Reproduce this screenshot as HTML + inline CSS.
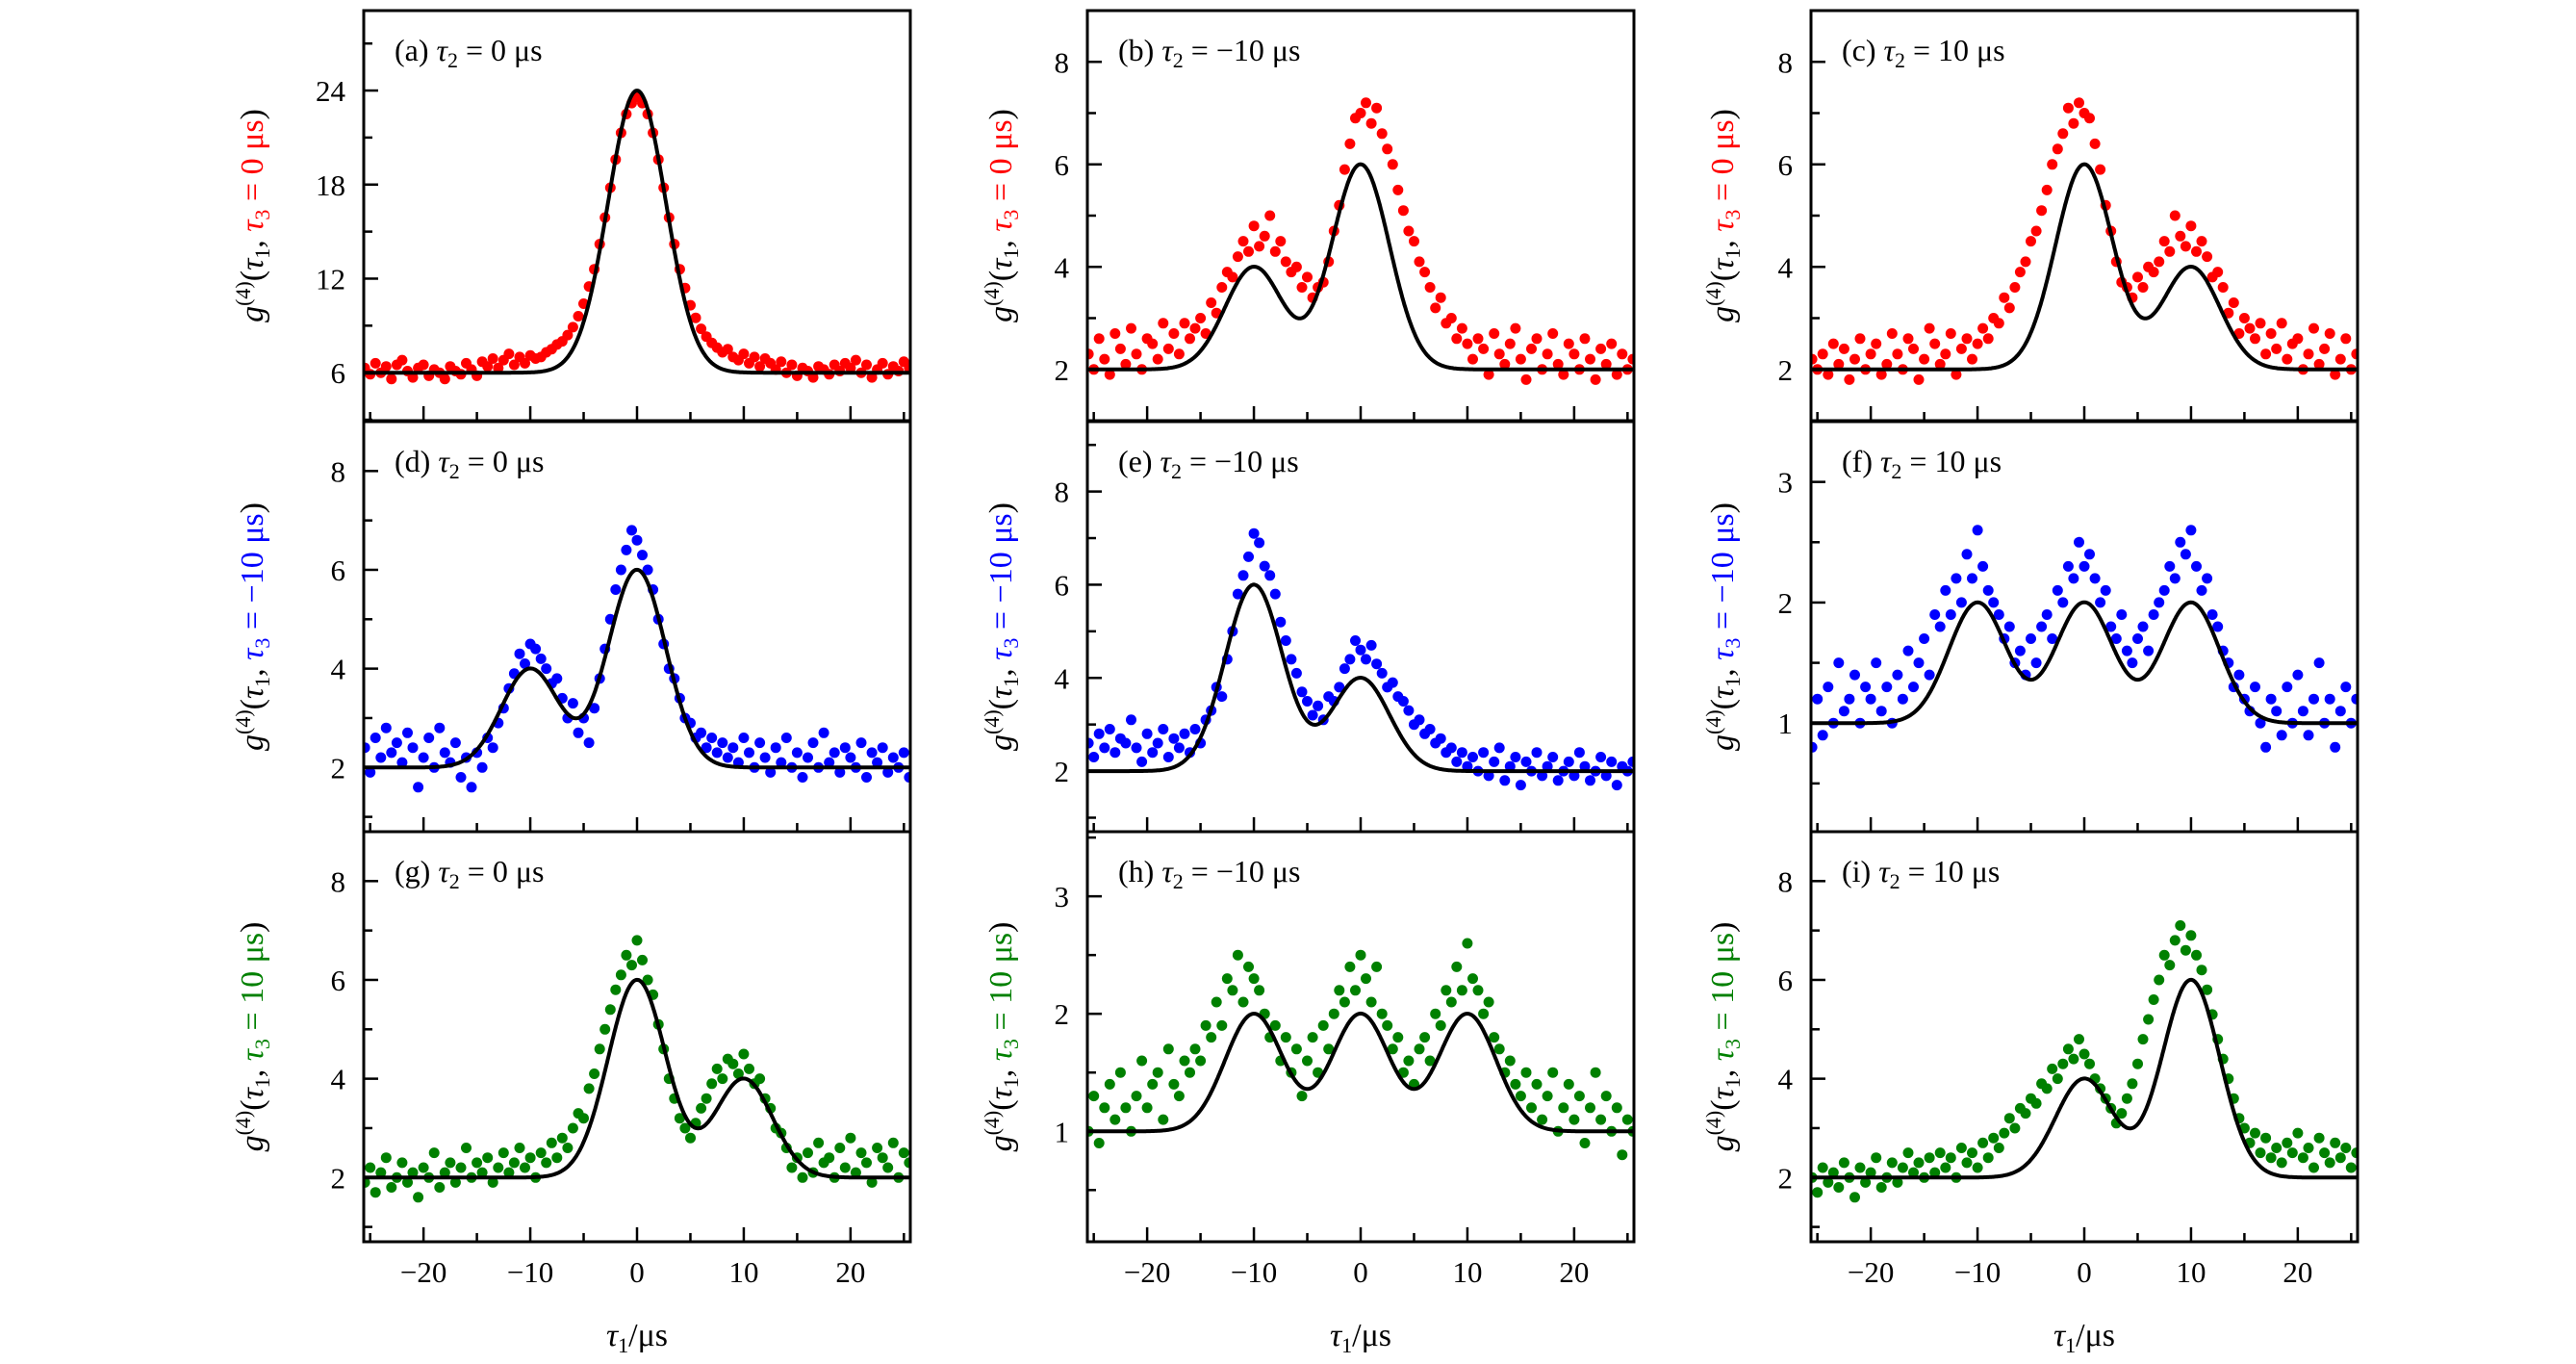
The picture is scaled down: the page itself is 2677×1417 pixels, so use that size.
<!DOCTYPE html>
<html><head><meta charset="utf-8"><style>
html,body{margin:0;padding:0;background:#fff;}
svg{display:block;}
text{font-family:"Liberation Serif","DejaVu Serif",serif;fill:#000;}
</style></head><body>
<svg id="fig" width="2677" height="1417" viewBox="0 0 2677 1417" xmlns="http://www.w3.org/2000/svg"></svg>
<script>
// ---- data ----
const xStart = -25.5, xStep = 0.5;
const xTicks = [-25,-20,-15,-10,-5,0,5,10,15,20,25];
const xTickLabels = ["","\u221220","","\u221210","","0","","10","","20",""];
const panelLetters = ["a","b","c","d","e","f","g","h","i"];
const tau2Labels = ["0","\u221210","10","0","\u221210","10","0","\u221210","10"];
const tau3Labels = ["0","0","0","\u221210","\u221210","\u221210","10","10","10"];
const yMins = [2.94,1.0,1.0,0.7,0.7,0.1,0.7,0.06,0.7];
const yMaxs = [29.1,9.0,9.0,9.0,9.5,3.5,9.0,3.55,9.0];
const yMajorTicks = [[6,12,18,24],[2,4,6,8],[2,4,6,8],[2,4,6,8],[2,4,6,8],[1,2,3],[2,4,6,8],[1,2,3],[2,4,6,8]];
const yMinorTicks = [[3,9,15,21,27],[1,3,5,7,9],[1,3,5,7,9],[1,3,5,7,9],[1,3,5,7,9],[0.5,1.5,2.5,3.5],[1,3,5,7,9],[0.5,1.5,2.5,3.5],[1,3,5,7,9]];
// fit model: baseline + gaussians
const fitBaselines = [6,2,2,2,2,1,2,1,2];
const fitSigma = [2.7,2.7,2.7,2.7,2.7,2.7,2.7,2.7,2.7];
const fitCenters = [[0],[-10,0],[0,10],[-10,0],[-10,0],[-10,0,10],[0,10],[-10,0,10],[0,10]];
const fitAmps = [[18],[2,4],[4,2],[2,4],[4,2],[1,1,1],[4,2],[1,1,1],[2,4]];
// measured points (x = -25.5 + 0.5*i)
const dataA = [6.3,5.9,6.6,6.0,6.4,5.6,6.5,6.8,6.1,5.7,6.3,6.5,5.8,6.2,6.0,5.6,6.4,6.1,5.9,6.6,6.2,5.8,6.7,6.4,6.9,6.3,6.8,7.2,6.5,7.0,6.6,7.1,
 6.9,7.0,7.3,7.5,7.8,8.0,8.4,8.9,9.6,10.4,11.5,12.6,14.2,15.9,17.8,19.6,21.3,22.5,23.2,23.6,
 23.2,22.5,21.3,19.6,17.8,15.9,14.2,12.6,11.4,10.3,9.5,8.8,8.3,7.9,7.6,7.3,7.5,7.0,6.8,
 7.2,6.6,7.0,6.4,6.9,6.6,6.2,6.7,6.0,6.5,5.8,6.3,6.1,5.7,6.4,6.2,5.9,6.5,6.1,6.6,6.3,6.8,6.0,6.5,5.7,6.2,6.6,5.9,6.4,6.1,6.7,6.3];
const dataB = [2.3,2.0,2.6,2.2,1.9,2.7,2.4,2.1,2.8,2.3,2.0,2.6,2.5,2.2,2.9,2.4,2.7,2.3,2.9,2.6,
 2.8,3.0,2.7,3.3,3.1,3.6,3.9,3.8,4.2,4.5,4.3,4.8,4.4,4.6,5.0,4.3,4.5,4.1,3.9,4.0,3.6,3.8,3.4,3.6,3.7,4.1,4.7,5.2,5.9,6.4,6.9,7.0,
 7.2,6.8,7.1,6.6,6.3,6.0,5.5,5.1,4.7,4.5,4.1,3.9,3.6,3.2,3.4,2.9,3.0,2.6,2.8,2.5,
 2.2,2.6,2.4,1.9,2.7,2.3,2.1,2.5,2.8,2.2,1.8,2.4,2.6,2.0,2.3,2.7,2.1,1.9,2.5,2.3,2.0,2.6,2.2,1.8,2.4,2.1,2.5,1.9,2.3,2.0,2.2];
const dataC = [2.2,2.0,2.3,1.9,2.5,2.1,2.4,1.8,2.2,2.6,2.0,2.3,2.5,1.9,2.1,2.7,2.3,2.0,2.6,2.4,1.8,2.2,2.8,2.5,2.1,2.3,2.7,1.9,2.4,2.6,2.2,
 2.5,2.8,2.6,3.0,2.9,3.4,3.2,3.6,3.9,4.1,4.5,4.7,5.1,5.5,6.0,6.3,6.6,7.1,6.8,7.2,7.0,
 6.9,6.4,5.9,5.2,4.7,4.1,3.7,3.6,3.4,3.8,3.6,4.0,3.9,4.1,4.5,4.3,5.0,4.6,4.4,4.8,4.3,4.5,4.2,3.8,3.9,3.6,3.1,3.3,2.7,3.0,2.8,
 2.6,2.9,2.3,2.7,2.4,2.9,2.2,2.5,2.6,2.0,2.3,2.8,2.1,2.4,2.7,1.9,2.2,2.6,2.0,2.3];
const dataD = [2.4,1.9,2.6,2.2,2.8,2.3,2.5,2.1,2.7,2.4,1.6,2.2,2.6,2.0,2.8,2.3,2.1,2.5,1.8,2.2,
 1.6,2.3,2.0,2.6,2.4,2.9,3.2,3.6,3.9,4.3,4.1,4.5,4.4,4.2,4.0,3.7,3.8,3.4,3.0,3.3,2.7,3.0,2.5,3.2,3.8,4.4,5.0,5.6,6.0,6.4,6.8,6.6,
 6.3,6.0,5.6,5.0,4.5,4.0,3.8,3.4,3.0,2.9,2.6,2.7,2.4,2.6,2.3,2.5,2.2,2.4,2.1,2.6,
 2.3,2.0,2.5,2.2,1.9,2.4,2.1,2.6,2.0,2.3,1.8,2.2,2.5,2.0,2.7,2.1,2.3,1.9,2.4,2.2,2.0,2.5,1.8,2.3,2.1,2.4,1.9,2.2,2.0,2.3,1.8];
const dataE = [2.6,2.3,2.8,2.5,2.9,2.4,2.7,2.6,3.1,2.5,2.2,2.8,2.4,2.6,2.9,2.3,2.7,2.5,2.8,2.4,
 2.9,2.6,3.1,3.3,3.8,3.6,4.4,5.0,5.8,6.2,6.6,7.1,6.9,6.4,6.2,5.8,5.2,4.8,4.4,4.1,3.7,3.5,3.2,3.4,3.1,3.6,3.5,3.8,4.2,4.4,4.8,4.6,
 4.4,4.7,4.3,4.1,3.8,3.9,3.6,3.5,3.3,3.0,3.1,2.8,2.9,2.6,2.7,2.4,2.5,2.2,2.4,2.1,
 2.3,2.0,2.4,1.9,2.2,2.5,1.8,2.1,2.3,1.7,2.2,2.0,2.4,1.9,2.1,2.3,1.8,2.0,2.2,1.9,2.4,2.1,1.8,2.0,2.3,1.9,2.2,1.7,2.1,2.0,2.2];
const dataF = [0.8,1.2,0.9,1.3,1.0,1.5,1.1,1.2,1.4,1.0,1.3,1.2,1.5,1.1,1.3,1.0,1.4,1.2,1.6,1.3,
 1.5,1.7,1.4,1.9,1.8,2.1,1.9,2.2,2.0,2.4,2.2,2.6,2.3,2.1,2.0,1.9,1.7,1.8,1.5,1.6,1.4,1.7,1.5,1.8,1.9,1.7,2.1,2.0,2.3,2.2,2.5,2.3,
 2.4,2.2,2.0,2.1,1.8,1.7,1.9,1.6,1.5,1.7,1.8,1.6,1.9,2.0,2.1,2.3,2.2,2.5,2.4,2.6,
 2.3,2.1,2.2,1.9,1.8,1.6,1.5,1.3,1.4,1.2,1.1,1.3,1.0,0.8,1.2,1.1,0.9,1.3,1.0,1.4,1.1,0.9,1.2,1.5,1.0,1.2,0.8,1.1,1.3,1.0,1.2];
const dataG = [1.9,2.2,1.7,2.1,2.4,1.8,2.0,2.3,1.9,2.1,1.6,2.2,2.0,2.5,1.8,2.1,2.3,1.9,2.2,2.6,
 2.0,2.3,2.1,2.4,1.9,2.2,2.5,2.1,2.3,2.6,2.2,2.4,2.0,2.5,2.3,2.7,2.4,2.8,2.6,3.0,3.3,3.2,3.8,4.1,4.6,5.0,5.4,5.8,6.1,6.5,6.3,6.8,
 6.4,6.0,5.7,5.1,4.6,4.0,3.6,3.2,3.0,2.8,3.1,3.4,3.6,3.9,4.2,4.0,4.4,4.3,4.1,4.5,
 4.2,3.9,4.0,3.6,3.4,3.0,2.9,2.6,2.2,2.4,2.0,2.5,2.1,2.7,2.3,2.4,2.0,2.6,2.2,2.8,2.1,2.5,2.3,1.9,2.6,2.4,2.2,2.7,2.0,2.5,2.3];
const dataH = [1.0,1.3,0.9,1.2,1.4,1.1,1.5,1.2,1.0,1.3,1.6,1.2,1.4,1.5,1.1,1.7,1.4,1.3,1.6,1.5,
 1.7,1.6,1.9,1.8,2.1,1.9,2.3,2.2,2.5,2.1,2.4,2.3,2.2,2.0,1.8,1.9,1.6,1.8,1.5,1.7,1.3,1.6,1.8,1.5,1.9,1.7,2.0,2.2,2.1,2.4,2.2,2.5,
 2.3,2.1,2.4,2.0,1.9,1.7,1.8,1.5,1.6,1.4,1.7,1.8,1.6,2.0,1.9,2.2,2.1,2.4,2.2,2.6,
 2.3,2.2,2.0,2.1,1.8,1.7,1.5,1.6,1.4,1.3,1.5,1.2,1.4,1.1,1.3,1.5,1.0,1.2,1.4,1.1,1.3,0.9,1.2,1.5,1.1,1.3,1.0,1.2,0.8,1.1,1.0];
const dataI = [2.0,1.7,2.2,1.9,2.1,1.8,2.3,2.0,1.6,2.2,1.9,2.1,2.4,1.8,2.0,2.3,1.9,2.2,2.5,2.1,
 2.3,2.0,2.4,2.1,2.5,2.2,2.4,2.0,2.6,2.3,2.5,2.2,2.7,2.4,2.8,2.6,2.9,3.2,3.0,3.4,3.3,3.6,3.5,3.9,3.8,4.2,4.0,4.3,4.6,4.4,4.8,4.5,
 4.3,4.0,3.8,3.6,3.4,3.1,3.3,3.6,3.9,4.3,4.8,5.2,5.6,6.0,6.5,6.3,6.8,7.1,6.6,6.9,
 6.5,6.2,5.8,5.3,4.8,4.4,4.0,3.6,3.2,3.0,2.7,2.9,2.5,2.8,2.4,2.6,2.3,2.7,2.5,2.9,2.4,2.6,2.2,2.8,2.5,2.3,2.7,2.4,2.6,2.2,2.5];
const panelData = [dataA,dataB,dataC,dataD,dataE,dataF,dataG,dataH,dataI];

// ---- layout ----
const NS = "http://www.w3.org/2000/svg";
const svg = document.getElementById("fig");
const colLeft = [378,1130,1882], rowTop = [11,438,864];
const PW = 568, PH = 426, XMIN = -25.6, XMAX = 25.6;
const rowColors = ["#ff0000","#0000ff","#008000"];
const ylabOffset = [116,90,92];

function mk(tag, attrs, parent){
  const e = document.createElementNS(NS, tag);
  for (const k in attrs) e.setAttribute(k, attrs[k]);
  (parent||svg).appendChild(e);
  return e;
}

for (let p = 0; p < 9; p++) {
  const r = Math.floor(p/3), c = p%3;
  const L = colLeft[c], T = rowTop[r];
  const ymin = yMins[p], ymax = yMaxs[p];
  const sx = v => L + (v - XMIN)/(XMAX - XMIN)*PW;
  const sy = v => T + PH - (v - ymin)/(ymax - ymin)*PH;
  const g = mk("g", {});
  
  
  const clipId = "clip" + p;
  const cp = mk("clipPath", {id: clipId}, g);
  mk("rect", {x: L, y: T, width: PW, height: PH}, cp);

  // points
  const pts = mk("g", {"clip-path": "url(#" + clipId + ")", fill: rowColors[r]}, g);
  
  
  panelData[p].forEach((v, i) => {
    const d = mk("circle", {cx: sx(xStart + i*xStep).toFixed(1), cy: sy(v).toFixed(1), r: 5.5}, pts);
    
    
  });

  // fit curve
  let path = "";
  for (let k = 0; k <= 600; k++) {
    const x = XMIN + (XMAX - XMIN)*k/600;
    let y = fitBaselines[p];
    fitCenters[p].forEach((cc, j) => { y += fitAmps[p][j]*Math.exp(-(x-cc)*(x-cc)/(2*fitSigma[p]*fitSigma[p])); });
    path += (k ? "L" : "M") + sx(x).toFixed(1) + "," + sy(y).toFixed(1);
  }
  const fc = mk("path", {d: path, fill: "none", stroke: "#000", "stroke-width": 4, "clip-path": "url(#" + clipId + ")"}, g);
  
  

  // ticks
  xTicks.forEach((t, i) => {
    const len = xTickLabels[i] ? 15 : 9;
    mk("line", {x1: sx(t), x2: sx(t), y1: T+PH, y2: T+PH-len, stroke: "#000", "stroke-width": 2.5}, g);
    if (r === 2 && xTickLabels[i]) {
      const tl = mk("text", {x: sx(t), y: T+PH+42, "font-size": 31, "text-anchor": "middle"}, g);
      tl.textContent = xTickLabels[i];
      
      
    }
  });
  yMajorTicks[p].forEach(t => {
    mk("line", {x1: L, x2: L+15, y1: sy(t), y2: sy(t), stroke: "#000", "stroke-width": 2.5}, g);
    const tl = mk("text", {x: L-19, y: sy(t)+11, "font-size": 31, "text-anchor": "end"}, g);
    tl.textContent = String(t);
    
    
  });
  yMinorTicks[p].forEach(t => {
    if (t > ymin && t < ymax) mk("line", {x1: L, x2: L+9, y1: sy(t), y2: sy(t), stroke: "#000", "stroke-width": 2.5}, g);
  });

  // frame
  const fr = mk("rect", {x: L, y: T, width: PW, height: PH, fill: "none", stroke: "#000", "stroke-width": 3}, g);
  
  

  // panel title
  const tt = mk("text", {x: L+32, y: T+52, "font-size": 32}, g);
  
  
  tt.innerHTML = '(' + panelLetters[p] + ')  <tspan font-style="italic">\u03c4</tspan><tspan font-size="22" dy="7">2</tspan><tspan dy="-7"> = ' + tau2Labels[p] + ' \u03bcs</tspan>';

  // y-axis label
  const cx = L - ylabOffset[c], cy = T + PH/2;
  const yl = mk("text", {x: cx, y: cy, "font-size": 34, "text-anchor": "middle", transform: "rotate(-90 " + cx + " " + cy + ")", dy: 11}, g);
  
  
  yl.innerHTML = '<tspan font-style="italic">g</tspan><tspan font-size="22" dy="-13">(4)</tspan><tspan dy="13">(</tspan><tspan font-style="italic">\u03c4</tspan><tspan font-size="22" dy="7">1</tspan><tspan dy="-7">, </tspan><tspan fill="' + rowColors[r] + '"><tspan font-style="italic">\u03c4</tspan><tspan font-size="22" dy="7">3</tspan><tspan dy="-7"> = ' + tau3Labels[p] + ' \u03bcs</tspan></tspan><tspan>)</tspan>';

  if (r === 2) {
    const xt = mk("text", {x: L + PW/2, y: T+PH+108, "font-size": 34, "text-anchor": "middle"}, g);
    
    
    xt.innerHTML = '<tspan font-style="italic">\u03c4</tspan><tspan font-size="22" dy="7">1</tspan><tspan dy="-7">/\u03bcs</tspan>';
  }
}
</script>
</body></html>
